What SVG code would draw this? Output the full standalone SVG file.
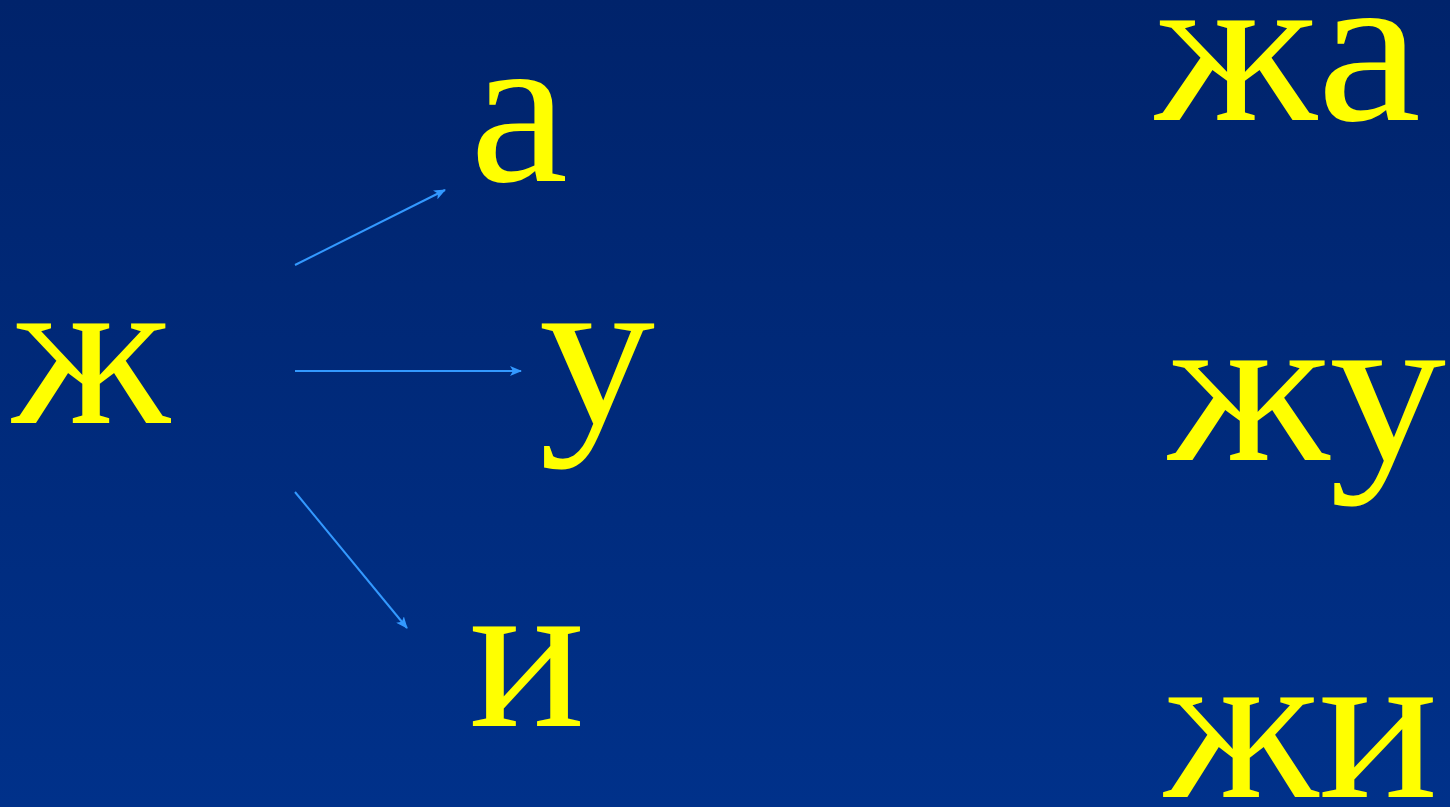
<svg xmlns="http://www.w3.org/2000/svg" width="1450" height="807" viewBox="0 0 1450 807">
<defs>
<linearGradient id="bg" x1="0" y1="0" x2="0" y2="1">
<stop offset="0" stop-color="#00236B"/>
<stop offset="1" stop-color="#00318A"/>
</linearGradient>
<marker id="ah" viewBox="0 0 12 10" refX="11" refY="5" markerWidth="12" markerHeight="10" markerUnits="userSpaceOnUse" orient="auto">
<path d="M0,0 L12,5 L0,10 L3,5 Z" fill="#3399FF"/>
</marker>
<style>
.t{font-family:"Liberation Serif","Times New Roman",serif;font-size:216px;fill:#FFFF00}
.c{stroke:#3399FF;stroke-width:2;fill:none;marker-end:url(#ah)}
</style>
</defs>
<rect width="1450" height="807" fill="url(#bg)"/>
<g id="node-zh"><text class="t" x="12" y="423" textLength="158" lengthAdjust="spacingAndGlyphs">ж</text></g>
<g id="node-a"><text class="t" x="470" y="181" textLength="98" lengthAdjust="spacingAndGlyphs">а</text></g>
<g id="node-u"><text class="t" x="539" y="423" textLength="116" lengthAdjust="spacingAndGlyphs">у</text></g>
<g id="node-i"><text class="t" x="469" y="726" textLength="116" lengthAdjust="spacingAndGlyphs">и</text></g>
<g id="node-zha"><text class="t" x="1155" y="120" textLength="266" lengthAdjust="spacingAndGlyphs">жа</text></g>
<g id="node-zhu"><text class="t" x="1168" y="460" textLength="278" lengthAdjust="spacingAndGlyphs">жу</text></g>
<g id="node-zhi"><text class="t" x="1164" y="797" textLength="274" lengthAdjust="spacingAndGlyphs">жи</text></g>
<g id="connectors">
<line class="c" x1="295" y1="265" x2="445" y2="190"/>
<line class="c" x1="295" y1="371" x2="521" y2="371"/>
<line class="c" x1="295" y1="492" x2="407" y2="628"/>
</g>
</svg>
